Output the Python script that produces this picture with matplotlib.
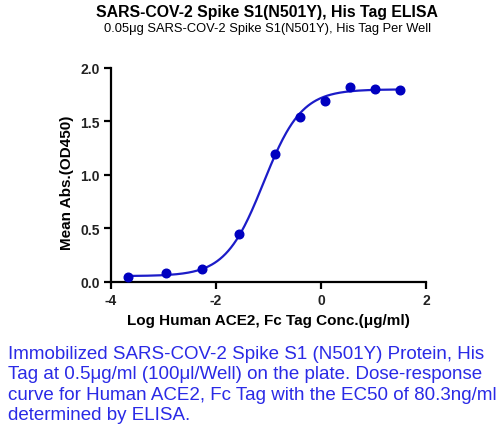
import matplotlib.pyplot as plt
import numpy as np

plt.rcParams['font.family'] = ['Liberation Sans', 'DejaVu Sans']

# Messpunkte: log Konzentration (ug/ml) und OD450
log_conc = [-3.67, -2.96, -2.27, -1.57, -0.87, -0.40, 0.08, 0.56, 1.02, 1.50]
mean_abs = [0.047, 0.084, 0.125, 0.444, 1.20, 1.54, 1.69, 1.82, 1.80, 1.79]

# 4PL-Fitparameter (aus dem Bild geschaetzt, EC50 = 80.3 ng/ml)
fit_bottom = 0.055
fit_top = 1.80
fit_log_ec50 = np.log10(0.0803)
fit_hill = 1.2

x_ticks = [-4, -2, 0, 2]
y_ticks = [0.0, 0.5, 1.0, 1.5, 2.0]

title = 'SARS-COV-2 Spike S1(N501Y), His Tag ELISA'
subtitle = '0.05μg SARS-COV-2 Spike S1(N501Y), His Tag Per Well'
caption = ('Immobilized SARS-COV-2 Spike S1 (N501Y) Protein, His\n'
           'Tag at 0.5μg/ml (100μl/Well) on the plate. Dose-response\n'
           'curve for Human ACE2, Fc Tag with the EC50 of 80.3ng/ml\n'
           'determined by ELISA.')

fig = plt.figure(figsize=(5.03, 4.31), dpi=100)
ax = fig.add_axes([0.2207, 0.3434, 0.6263, 0.4966])

xs = np.linspace(log_conc[0], log_conc[-1], 300)
curve = fit_bottom + (fit_top - fit_bottom) / (1 + 10 ** ((fit_log_ec50 - xs) * fit_hill))
ax.plot(xs, curve, color='#1c1cc8', linewidth=1.6, zorder=2)
ax.plot(log_conc, mean_abs, 'o', color='#0000c0', markersize=6.2, zorder=3)

ax.set_xlim(-4, 2)
ax.set_ylim(0, 2)
ax.set_xticks(x_ticks)
ax.set_xticklabels([str(t) for t in x_ticks])
ax.set_yticks(y_ticks)
ax.set_yticklabels([f'{t:.1f}' for t in y_ticks])

# nur linke und untere Achse
ax.spines['top'].set_visible(False)
ax.spines['right'].set_visible(False)
for s in ['left', 'bottom']:
    ax.spines[s].set_linewidth(1.6)
ax.tick_params(width=1.6, length=5, labelsize=10, pad=3)
for lab in ax.get_xticklabels() + ax.get_yticklabels():
    lab.set_fontweight('bold')
    lab.set_color('#222222')

ax.set_xlabel('Log Human ACE2, Fc Tag Conc.(μg/ml)', fontsize=11, fontweight='bold', labelpad=4)
ax.set_ylabel('Mean Abs.(OD450)', fontsize=11, fontweight='bold', labelpad=3)
ax.yaxis.set_label_coords(-0.117, 0.47)

fig.text(0.531, 0.972, title, ha='center', va='center', fontsize=11.4, fontweight='bold')
fig.text(0.531, 0.932, subtitle, ha='center', va='center', fontsize=9.3)
fig.text(0.016, 0.107, caption, ha='left', va='center', fontsize=13.5,
         color='#2a2ae6', linespacing=1.25)

plt.savefig('out.png')
